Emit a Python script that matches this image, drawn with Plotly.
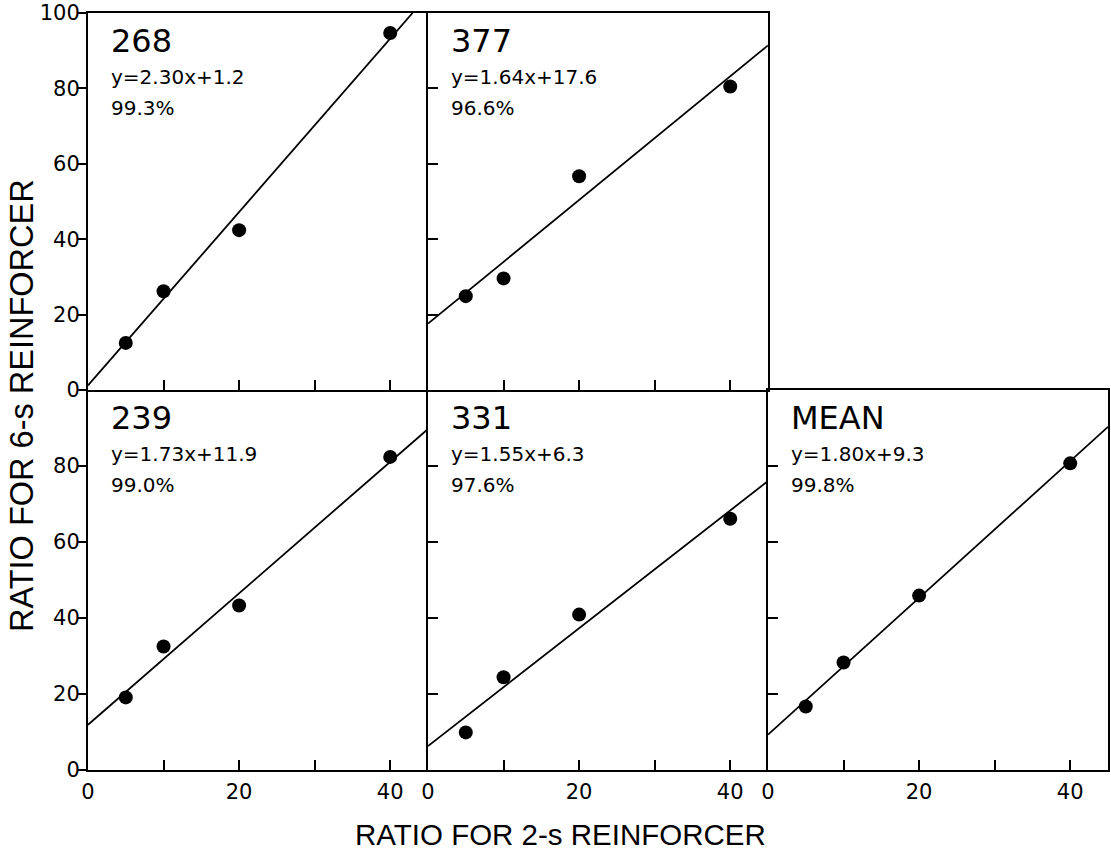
import plotly.graph_objects as go

# ---- data ----
panel_names = ["268", "377", "239", "331", "MEAN"]
ratio_2s = [5, 10, 20, 40]
ratio_6s_268 = [12.5, 26.2, 42.4, 94.7]
ratio_6s_377 = [24.9, 29.6, 56.7, 80.5]
ratio_6s_239 = [19.1, 32.5, 43.3, 82.4]
ratio_6s_331 = [9.9, 24.4, 40.9, 66.1]
ratio_6s_mean = [16.7, 28.3, 45.9, 80.7]
slopes = [2.30, 1.64, 1.73, 1.55, 1.80]
intercepts = [1.2, 17.6, 11.9, 6.3, 9.3]
equations = ["y=2.30x+1.2", "y=1.64x+17.6", "y=1.73x+11.9", "y=1.55x+6.3", "y=1.80x+9.3"]
percents = ["99.3%", "96.6%", "99.0%", "97.6%", "99.8%"]
x_ticks = [0, 10, 20, 30, 40]
x_ticktext = ["0", "", "20", "", "40"]
y_ticks = [0, 20, 40, 60, 80, 100]
y_ticktext_top = ["0", "20", "40", "60", "80", "100"]
y_ticktext_bottom = ["0", "20", "40", "60", "80", ""]

series = [ratio_6s_268, ratio_6s_377, ratio_6s_239, ratio_6s_331, ratio_6s_mean]

W, H = 1111, 851
X_MAX, Y_MAX = 45, 100

# panel geometry (pixels)
cols = [(88, 428), (428, 768), (768, 1108)]
rows = [(13, 390), (390, 770)]
panel_pos = [(0, 0), (0, 1), (1, 0), (1, 1), (1, 2)]  # (row, col)
# which mirrored frame edges to draw (avoid doubling shared borders)
right_mirror = [False, True, False, False, True]
top_mirror = [True, True, False, False, True]

TICK_FONT = dict(family="DejaVu Sans", size=21, color="black")
TITLE_FAMILY = "Liberation Sans, Arial"

fig = go.Figure()

for i, (name, ys) in enumerate(zip(panel_names, series)):
    r, c = panel_pos[i]
    suffix = "" if i == 0 else str(i + 1)
    xa, ya = "x" + suffix, "y" + suffix

    # fitted line from slope/intercept, clipped at the top of the panel
    x_end = min(X_MAX, (Y_MAX - intercepts[i]) / slopes[i])
    fig.add_trace(go.Scatter(
        x=[0, x_end], y=[intercepts[i], intercepts[i] + slopes[i] * x_end],
        mode="lines", line=dict(color="black", width=1.8),
        xaxis=xa, yaxis=ya, showlegend=False, hoverinfo="skip",
        cliponaxis=True))
    fig.add_trace(go.Scatter(
        x=ratio_2s, y=ys, mode="markers",
        marker=dict(color="black", size=14),
        xaxis=xa, yaxis=ya, showlegend=False))

    x0, x1 = cols[c]
    yt, yb = rows[r]
    xdom = [x0 / W, x1 / W]
    ydom = [1 - yb / H, 1 - yt / H]

    xaxis = dict(
        domain=xdom, range=[0, X_MAX], anchor=ya, automargin=False,
        showline=True, linecolor="black", linewidth=2, mirror=top_mirror[i],
        ticks="inside", tickvals=x_ticks, ticktext=x_ticktext,
        ticklen=10, tickwidth=2, tickcolor="black",
        showgrid=False, zeroline=False, fixedrange=True,
        showticklabels=(r == 1), tickfont=TICK_FONT, ticklabelstandoff=2,
    )
    yaxis = dict(
        domain=ydom, range=[0, Y_MAX], anchor=xa, automargin=False,
        showline=True, linecolor="black", linewidth=2, mirror=right_mirror[i],
        ticks="outside" if c == 0 else "inside",
        tickvals=y_ticks,
        ticktext=y_ticktext_top if r == 0 else y_ticktext_bottom,
        ticklen=8 if c == 0 else 10, tickwidth=2, tickcolor="black",
        showgrid=False, zeroline=False, fixedrange=True,
        showticklabels=(c == 0), tickfont=TICK_FONT, ticklabelstandoff=-6,
    )
    fig.layout["xaxis" + suffix] = xaxis
    fig.layout["yaxis" + suffix] = yaxis

    fig.add_annotation(text=name, xref=xa + " domain", yref=ya + " domain",
                       x=0.062, y=0.927, xanchor="left", yanchor="middle",
                       showarrow=False,
                       font=dict(family="DejaVu Sans", size=32, color="black"))
    fig.add_annotation(text=equations[i], xref=xa + " domain", yref=ya + " domain",
                       x=0.062, y=0.831, xanchor="left", yanchor="middle",
                       showarrow=False,
                       font=dict(family="DejaVu Sans", size=20, color="black"))
    fig.add_annotation(text=percents[i], xref=xa + " domain", yref=ya + " domain",
                       x=0.062, y=0.749, xanchor="left", yanchor="middle",
                       showarrow=False,
                       font=dict(family="DejaVu Sans", size=20, color="black"))

# axis titles
fig.add_annotation(text="RATIO FOR 2-s REINFORCER", xref="paper", yref="paper",
                   x=560 / W, y=1 - 834 / H, xanchor="center", yanchor="middle",
                   showarrow=False,
                   font=dict(family=TITLE_FAMILY, size=29.5, color="black"))
fig.add_annotation(text="RATIO FOR 6-s REINFORCER", xref="paper", yref="paper",
                   x=22 / W, y=1 - 406 / H, xanchor="center", yanchor="middle",
                   textangle=-90, showarrow=False,
                   font=dict(family=TITLE_FAMILY, size=32.5, color="black"))

fig.update_layout(
    width=W, height=H,
    margin=dict(l=0, r=0, t=0, b=0, autoexpand=False),
    paper_bgcolor="white", plot_bgcolor="white",
    showlegend=False,
)

fig.write_html("out.html")
